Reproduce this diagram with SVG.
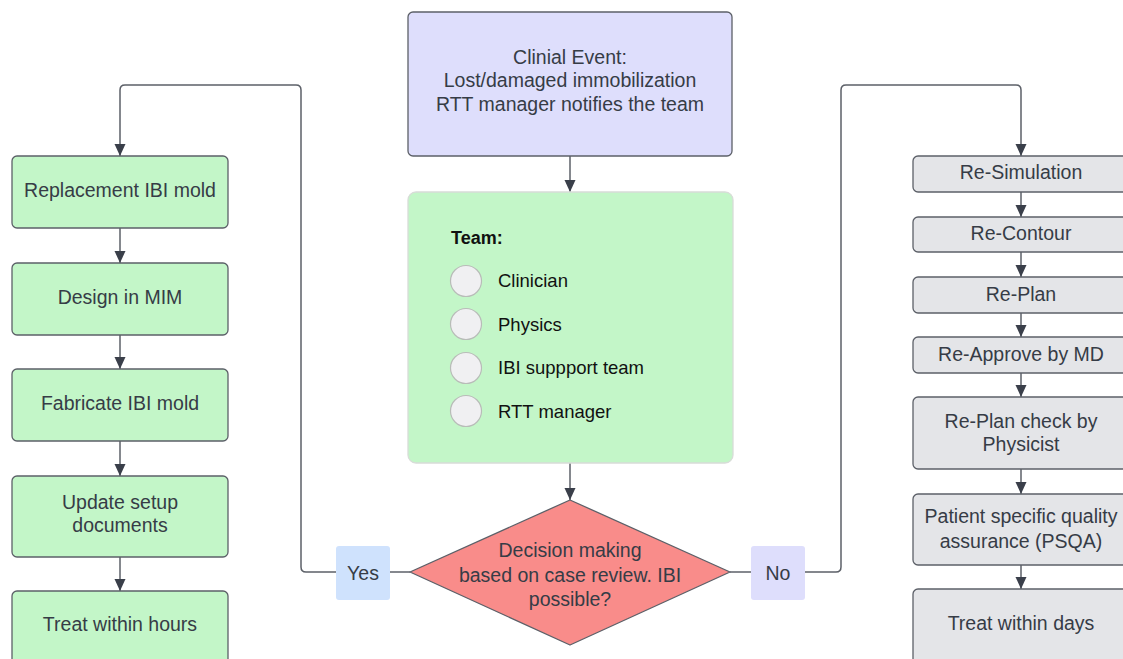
<svg xmlns="http://www.w3.org/2000/svg" width="1123" height="659" viewBox="0 0 1123 659">
<defs>
<marker id="arr" viewBox="0 0 12 12" refX="12" refY="6" markerWidth="12" markerHeight="12" markerUnits="userSpaceOnUse" orient="auto">
<path d="M0,0.5 L12,6 L0,11.5 z" fill="#3a3f4a"/>
</marker>
<style>
text{font-family:"Liberation Sans",Arial,sans-serif;fill:#363c46;font-size:19.5px;text-anchor:middle;dominant-baseline:central}
.g{fill:#c3f6c8;stroke:#5c6068;stroke-width:1.3}
.gr{fill:#e4e5e8;stroke:#5c6068;stroke-width:1.3}
.c{fill:none;stroke:#5c6068;stroke-width:1.5}
.t{font-size:18.5px;text-anchor:start;fill:#111}
</style>
</defs>
<rect width="1123" height="659" fill="#fff"/>

<g id="connectors">
<path class="c" d="M570,156 V192" marker-end="url(#arr)"/>
<path class="c" d="M570,463 V500" marker-end="url(#arr)"/>
<path class="c" d="M410,572 H390"/>
<path class="c" d="M336,572 H306 Q301,572 301,567 V90 Q301,85 296,85 H125 Q120,85 120,90 V156" marker-end="url(#arr)"/>
<path class="c" d="M730,572 H751"/>
<path class="c" d="M805,572 H836 Q841,572 841,567 V90 Q841,85 846,85 H1016 Q1021,85 1021,90 V156" marker-end="url(#arr)"/>
<path class="c" d="M120,228 V263" marker-end="url(#arr)"/>
<path class="c" d="M120,335 V369" marker-end="url(#arr)"/>
<path class="c" d="M120,441 V476" marker-end="url(#arr)"/>
<path class="c" d="M120,557 V591" marker-end="url(#arr)"/>
<path class="c" d="M1021,192 V217" marker-end="url(#arr)"/>
<path class="c" d="M1021,252 V277" marker-end="url(#arr)"/>
<path class="c" d="M1021,313 V337" marker-end="url(#arr)"/>
<path class="c" d="M1021,373 V397" marker-end="url(#arr)"/>
<path class="c" d="M1021,469 V494" marker-end="url(#arr)"/>
<path class="c" d="M1021,565 V589" marker-end="url(#arr)"/>
</g>

<g id="event">
<rect x="408" y="12" width="324" height="144" rx="5" fill="#dedefc" stroke="#5c6068" stroke-width="1.3"/>
<text x="570" y="57">Clinial Event:</text>
<text x="570" y="80">Lost/damaged immobilization</text>
<text x="570" y="104">RTT manager notifies the team</text>
</g>

<g id="team">
<rect x="408" y="192" width="325" height="271" rx="8" fill="#c3f6c8" stroke="#d8dcd8" stroke-width="1.3"/>
<text x="451" y="238" class="t" style="font-weight:bold;font-size:18px">Team:</text>
<g fill="#f0f0f2" stroke="#b8bcb8" stroke-width="1.2">
<circle cx="466" cy="281" r="15.5"/>
<circle cx="466" cy="324" r="15.5"/>
<circle cx="466" cy="368" r="15.5"/>
<circle cx="466" cy="411" r="15.5"/>
</g>
<text x="498" y="280" class="t">Clinician</text>
<text x="498" y="324" class="t">Physics</text>
<text x="498" y="367" class="t">IBI suppport team</text>
<text x="498" y="411" class="t">RTT manager</text>
</g>

<g id="decision">
<path d="M570,500 L730,572 L570,645 L410,572 z" fill="#f98c8a" stroke="#5c6068" stroke-width="1.3" stroke-linejoin="round"/>
<text x="570" y="550">Decision making</text>
<text x="570" y="575">based on case review. IBI</text>
<text x="570" y="599">possible?</text>
</g>

<g id="yes">
<rect x="336" y="546" width="54" height="54" rx="3" fill="#cfe2fd"/>
<text x="363" y="573">Yes</text>
</g>
<g id="no">
<rect x="751" y="546" width="54" height="54" rx="3" fill="#dedefc"/>
<text x="778" y="573">No</text>
</g>

<g id="replacement">
<rect class="g" x="12" y="156" width="216" height="72" rx="5"/>
<text x="120" y="190">Replacement IBI mold</text>
</g>
<g id="design">
<rect class="g" x="12" y="263" width="216" height="72" rx="5"/>
<text x="120" y="297">Design in MIM</text>
</g>
<g id="fabricate">
<rect class="g" x="12" y="369" width="216" height="72" rx="5"/>
<text x="120" y="403">Fabricate IBI mold</text>
</g>
<g id="update">
<rect class="g" x="12" y="476" width="216" height="81" rx="5"/>
<text x="120" y="502">Update setup</text>
<text x="120" y="525">documents</text>
</g>
<g id="treat-hours">
<rect class="g" x="12" y="591" width="216" height="80" rx="5"/>
<text x="120" y="624">Treat within hours</text>
</g>

<g id="resim">
<rect class="gr" x="913" y="156" width="216" height="36" rx="5"/>
<text x="1021" y="172">Re-Simulation</text>
</g>
<g id="recontour">
<rect class="gr" x="913" y="217" width="216" height="35" rx="5"/>
<text x="1021" y="233">Re-Contour</text>
</g>
<g id="replan">
<rect class="gr" x="913" y="277" width="216" height="36" rx="5"/>
<text x="1021" y="294">Re-Plan</text>
</g>
<g id="reapprove">
<rect class="gr" x="913" y="337" width="216" height="36" rx="5"/>
<text x="1021" y="354">Re-Approve by MD</text>
</g>
<g id="replancheck">
<rect class="gr" x="913" y="397" width="216" height="72" rx="5"/>
<text x="1021" y="421">Re-Plan check by</text>
<text x="1021" y="444">Physicist</text>
</g>
<g id="psqa">
<rect class="gr" x="913" y="494" width="216" height="71" rx="5"/>
<text x="1021" y="516">Patient specific quality</text>
<text x="1021" y="541">assurance (PSQA)</text>
</g>
<g id="treat-days">
<rect class="gr" x="913" y="589" width="216" height="82" rx="5"/>
<text x="1021" y="623">Treat within days</text>
</g>
</svg>
